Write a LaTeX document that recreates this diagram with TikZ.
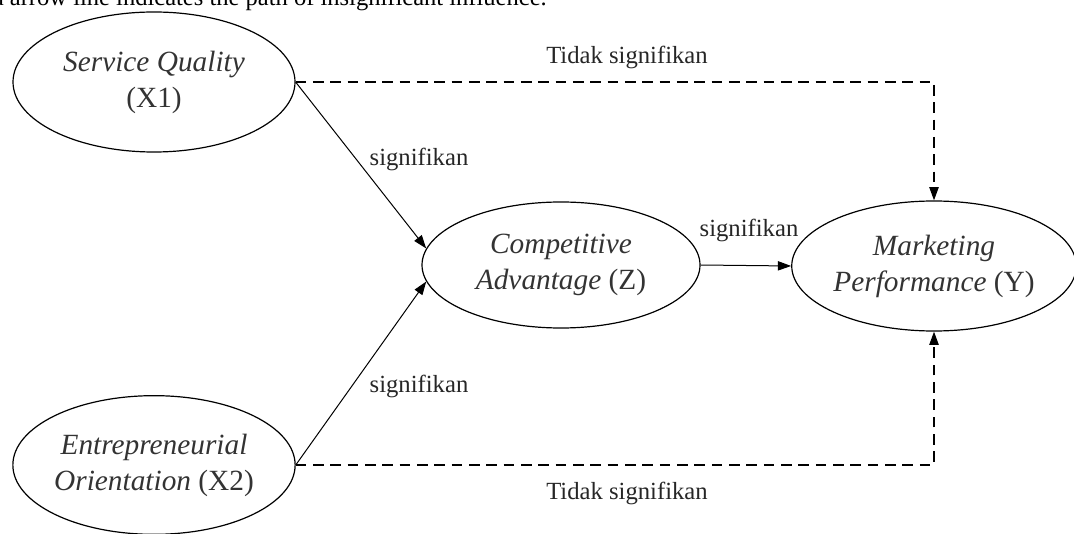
\documentclass[tikz,border=0pt]{standalone}
\usepackage{fontspec}
\setmainfont{Liberation Serif}
\usepackage{tikz}
\usetikzlibrary{arrows.meta, shapes.geometric}

\tikzset{
  latent/.style={draw, ellipse, line width=0.9pt, inner sep=0pt, align=center,
    text=black!80, font=\fontsize{22}{27}\selectfont},
  sigpath/.style={line width=0.75pt, -{Triangle[length=10pt,width=7pt]}},
  nonsigpath/.style={line width=1.1pt, dash pattern=on 8pt off 5pt,
    -{Triangle[length=10pt,width=7pt]}},
  pathlabel/.style={inner sep=0.75pt, text=black!85, font=\fontsize{18.5}{20}\selectfont}
}

\begin{document}
\begin{tikzpicture}[x=0.75pt,y=0.75pt,yscale=-1,xscale=1]
\clip (0,0) rectangle (1074,534);

% caption line cut off at top
\node (caption) [anchor=base east, inner sep=0pt, font=\fontsize{18.4}{20}\selectfont] at (547,6) {dashed arrow line indicates the path of insignificant influence.};

% Latent variables
\node (x1) [latent, minimum width=211.5pt, minimum height=105pt] at (154,82) {\textit{Service Quality}\\(X1)};
\node (x2) [latent, minimum width=211.5pt, minimum height=104pt] at (154,465) {\textit{Entrepreneurial}\\\textit{Orientation} (X2)};
\node (z) [latent, minimum width=208.5pt, minimum height=94.5pt] at (561,265) {\textit{Competitive}\\\textit{Advantage} (Z)};
\node (y) [latent, minimum width=213pt, minimum height=97.5pt] at (934,266) {\textit{Marketing}\\\textit{Performance} (Y)};

% Significant paths
\draw [sigpath] (x1.east) -- (z.173);
\draw [sigpath] (x2.east) -- (z.187);
\draw [sigpath] (z.east) -- (y.west);

% Insignificant paths
\draw [nonsigpath] (x1.east) -- (x1.east -| y.north) -- (y.north);
\draw [nonsigpath] (x2.east) -- (x2.east -| y.south) -- (y.south);

% Path labels
\node (lx1) [pathlabel] at (419,159) {signifikan};
\node (lx2) [pathlabel] at (419,386) {signifikan};
\node (lz) [pathlabel] at (749,230) {signifikan};
\node (lx1y) [pathlabel] at (627,57) {Tidak signifikan};
\node (lx2y) [pathlabel] at (627,493) {Tidak signifikan};

\end{tikzpicture}
\end{document}
